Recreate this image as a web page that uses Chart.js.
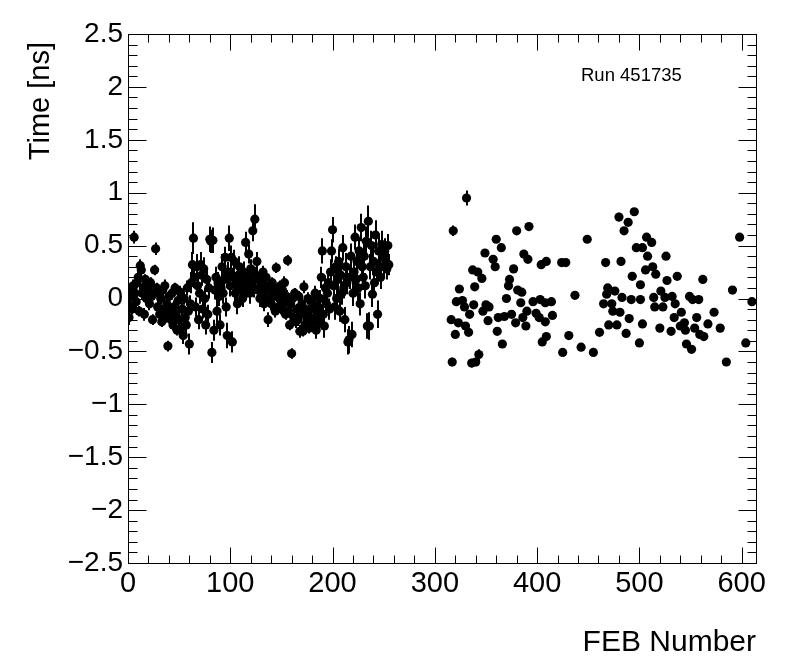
<!DOCTYPE html>
<html>
<head>
<meta charset="utf-8">
<title>FEB timing</title>
<script src="https://cdn.jsdelivr.net/npm/chart.js@4.4.1/dist/chart.umd.min.js"></script>
<style>
  html, body { margin: 0; padding: 0; background: #fff; }
  canvas { display: block; }
</style>
</head>
<body>
<canvas id="febChart" width="796" height="672"></canvas>
<script>
// FEB 0..255: time per FEB, index = FEB number
var denseTime = [
  -0.05, -0.18, 0.02, 0.08, -0.10, 0.12, 0.58, 0.05, -0.03, 0.15,
  0.20, -0.12, 0.31, 0.27, 0.05, 0.10, -0.15, 0.18, 0.00, 0.08,
  0.12, -0.05, 0.15, 0.02, -0.20, 0.05, 0.27, 0.47, 0.10, -0.08,
  0.05, -0.15, 0.00, -0.22, 0.08, -0.10, 0.12, -0.18, -0.05, -0.45,
  0.02, -0.12, -0.20, 0.05, -0.25, -0.08, 0.10, -0.15, -0.30, -0.02,
  -0.20, 0.06, -0.28, -0.10, -0.35, 0.00, -0.18, -0.25, 0.10, -0.12,
  -0.43, -0.05, 0.15, 0.32, 0.57, 0.20, -0.08, 0.30, 0.12, -0.20,
  0.05, 0.32, 0.22, -0.10, 0.28, 0.00, -0.25, 0.18, -0.15, 0.10,
  0.56, 0.54, -0.51, 0.55, -0.30, 0.08, 0.20, -0.12, 0.15, 0.02,
  -0.25, 0.10, 0.30, 0.05, 0.18, 0.39, -0.08, -0.35, 0.25, 0.57,
  0.12, 0.39, -0.41, 0.20, 0.35, 0.05, 0.15, -0.05, 0.22, 0.30,
  0.08, 0.18, 0.00, 0.25, 0.12, 0.53, 0.10, 0.20, 0.42, 0.05,
  0.28, 0.15, 0.64, 0.10, 0.75, 0.22, 0.35, 0.08, 0.18, 0.00,
  0.15, 0.05, 0.25, -0.05, 0.10, 0.20, 0.00, -0.20, 0.12, 0.08,
  -0.05, 0.15, 0.02, 0.10, -0.12, 0.29, 0.05, -0.08, 0.00, 0.12,
  -0.10, 0.08, -0.05, 0.15, -0.15, 0.02, 0.36, -0.12, -0.25, -0.05,
  -0.52, 0.00, -0.18, 0.05, -0.22, -0.10, -0.20, 0.02, -0.31, -0.15,
  -0.05, -0.31, 0.11, -0.25, -0.12, -0.20, 0.00, -0.28, -0.10, -0.18,
  -0.25, -0.05, -0.20, 0.05, -0.30, -0.12, -0.08, -0.22, 0.00, 0.20,
  0.45, -0.15, -0.26, 0.10, -0.05, 0.05, 0.15, -0.10, 0.25, 0.45,
  0.65, 0.12, -0.08, 0.30, 0.00, 0.18, 0.35, -0.12, 0.22, 0.05,
  0.48, 0.10, -0.20, 0.30, 0.15, -0.41, -0.39, 0.20, 0.40, -0.34,
  0.05, 0.25, 0.58, 0.18, 0.35, 0.10, 0.45, -0.05, 0.67, 0.30,
  0.20, 0.40, 0.12, 0.54, -0.26, 0.73, -0.26, 0.30, 0.50, 0.04,
  0.35, 0.15, 0.60, 0.25, -0.15, 0.45, 0.30, 0.20, 0.51, 0.40,
  0.30, 0.45, 0.35, 0.28, 0.50, 0.32
];
var denseErr = [
  0.06, 0.07, 0.05, 0.06, 0.05, 0.06, 0.06, 0.05, 0.06, 0.05,
  0.06, 0.05, 0.06, 0.05, 0.06, 0.05, 0.06, 0.05, 0.06, 0.05,
  0.05, 0.06, 0.05, 0.06, 0.05, 0.06, 0.05, 0.06, 0.05, 0.06,
  0.06, 0.05, 0.06, 0.05, 0.06, 0.05, 0.06, 0.05, 0.06, 0.05,
  0.05, 0.06, 0.05, 0.06, 0.05, 0.06, 0.05, 0.06, 0.05, 0.06,
  0.07, 0.06, 0.07, 0.06, 0.08, 0.06, 0.07, 0.08, 0.07, 0.06,
  0.10, 0.08, 0.10, 0.12, 0.15, 0.10, 0.09, 0.12, 0.10, 0.09,
  0.10, 0.12, 0.10, 0.09, 0.11, 0.10, 0.09, 0.10, 0.09, 0.10,
  0.12, 0.11, 0.10, 0.12, 0.10, 0.09, 0.10, 0.11, 0.10, 0.09,
  0.10, 0.09, 0.12, 0.10, 0.11, 0.10, 0.09, 0.12, 0.10, 0.12,
  0.10, 0.11, 0.10, 0.09, 0.11, 0.10, 0.09, 0.10, 0.11, 0.10,
  0.09, 0.10, 0.08, 0.10, 0.09, 0.10, 0.09, 0.10, 0.09, 0.10,
  0.09, 0.10, 0.10, 0.09, 0.14, 0.08, 0.09, 0.08, 0.07, 0.08,
  0.06, 0.07, 0.06, 0.07, 0.06, 0.07, 0.06, 0.07, 0.06, 0.07,
  0.06, 0.05, 0.06, 0.05, 0.06, 0.05, 0.06, 0.05, 0.06, 0.05,
  0.05, 0.06, 0.05, 0.06, 0.05, 0.06, 0.05, 0.06, 0.05, 0.06,
  0.05, 0.05, 0.06, 0.05, 0.06, 0.05, 0.06, 0.05, 0.06, 0.05,
  0.06, 0.05, 0.06, 0.05, 0.06, 0.05, 0.06, 0.05, 0.06, 0.05,
  0.06, 0.07, 0.06, 0.07, 0.08, 0.07, 0.08, 0.09, 0.08, 0.10,
  0.12, 0.10, 0.11, 0.12, 0.10, 0.12, 0.11, 0.10, 0.12, 0.11,
  0.12, 0.11, 0.12, 0.10, 0.12, 0.11, 0.12, 0.10, 0.13, 0.11,
  0.12, 0.10, 0.12, 0.13, 0.11, 0.12, 0.13, 0.11, 0.12, 0.12,
  0.12, 0.13, 0.12, 0.11, 0.13, 0.12, 0.13, 0.11, 0.13, 0.12,
  0.12, 0.13, 0.12, 0.14, 0.12, 0.15, 0.13, 0.12, 0.14, 0.12,
  0.13, 0.12, 0.14, 0.12, 0.13, 0.14, 0.12, 0.11, 0.13, 0.12,
  0.11, 0.12, 0.11, 0.10, 0.11, 0.10
];

// FEB 316..610: only some FEBs have a value
var sparseFeb = [
  316, 317, 318, 320, 321, 323, 324, 327, 329, 330, 331, 333, 334, 336, 337, 338, 339, 340, 342, 343,
  346, 347, 349, 350, 352, 353, 357, 359, 360, 361, 362, 365, 366, 368, 370, 372, 373, 375, 377, 379,
  380, 381, 384, 385, 386, 387, 389, 390, 391, 392, 396, 399, 402, 403, 404, 405, 408, 408, 409, 409,
  414, 415, 424, 425, 428, 431, 437, 443, 449, 455, 461, 465, 467, 468, 469, 470, 473, 474, 476, 478,
  480, 481, 482, 483, 485, 487, 489, 490, 492, 493, 495, 497, 500, 501, 501, 503, 503, 506, 507, 508,
  512, 513, 514, 515, 516, 520, 521, 523, 525, 526, 527, 531, 532, 534, 535, 537, 540, 541, 544, 545,
  546, 549, 551, 552, 554, 556, 558, 559, 562, 563, 567, 573, 579, 585, 591, 598, 604, 610
];
var sparseTime = [
  -0.20, -0.60, 0.64, -0.34, -0.03, -0.23, 0.09, -0.02, -0.08, -0.26, 0.95, -0.32, -0.15, -0.61, 0.27, -0.06, 0.11, -0.60, 0.25, -0.53,
  0.19, -0.12, 0.43, -0.06, -0.21, -0.08, 0.37, 0.30, 0.56, -0.31, -0.18, 0.48, -0.43, -0.17, 0.00, 0.12, 0.18, -0.15, 0.28, -0.23,
  0.64, 0.08, -0.04, 0.06, -0.18, 0.42, -0.26, -0.12, 0.37, 0.68, -0.03, -0.14, -0.18, -0.01, 0.32, -0.41, -0.04, -0.22, 0.35, -0.36,
  -0.03, -0.16, 0.34, -0.51, 0.34, -0.35, 0.03, -0.46, 0.56, -0.51, -0.32, -0.05, 0.34, 0.04, 0.10, -0.25, -0.05, -0.12, 0.07, -0.25,
  0.77, -0.13, 0.35, 0.01, 0.64, -0.33, 0.72, -0.19, -0.01, 0.21, 0.82, 0.48, -0.42, -0.01, 0.13, 0.48, -0.24, 0.27, 0.58, 0.40,
  0.53, 0.30, 0.01, -0.08, 0.23, -0.28, 0.07, -0.08, 0.01, 0.40, 0.17, -0.31, 0.02, -0.18, -0.05, 0.21, -0.26, -0.13, -0.23, -0.30,
  -0.43, 0.02, -0.48, -0.01, -0.28, -0.18, -0.01, -0.34, 0.18, -0.36, -0.24, -0.13, -0.28, -0.60, 0.08, 0.58, -0.42, -0.03
];
var sparseErr = [
  0.03, 0.04, 0.05, 0.03, 0.03, 0.03, 0.03, 0.03, 0.03, 0.03, 0.07, 0.03, 0.03, 0.04, 0.03, 0.03, 0.03, 0.04, 0.03, 0.05,
  0.03, 0.03, 0.03, 0.03, 0.03, 0.03, 0.04, 0.03, 0.03, 0.03, 0.03, 0.04, 0.03, 0.03, 0.03, 0.03, 0.03, 0.03, 0.03, 0.03,
  0.03, 0.03, 0.03, 0.03, 0.03, 0.03, 0.03, 0.03, 0.03, 0.03, 0.03, 0.03, 0.03, 0.03, 0.03, 0.03, 0.03, 0.03, 0.03, 0.03,
  0.03, 0.03, 0.03, 0.03, 0.03, 0.03, 0.03, 0.03, 0.03, 0.03, 0.03, 0.03, 0.03, 0.03, 0.03, 0.03, 0.03, 0.03, 0.03, 0.03,
  0.04, 0.03, 0.03, 0.03, 0.03, 0.03, 0.03, 0.03, 0.03, 0.03, 0.03, 0.03, 0.03, 0.03, 0.03, 0.03, 0.03, 0.03, 0.03, 0.03,
  0.03, 0.03, 0.03, 0.03, 0.03, 0.03, 0.03, 0.03, 0.03, 0.03, 0.03, 0.03, 0.03, 0.03, 0.03, 0.03, 0.03, 0.03, 0.03, 0.03,
  0.03, 0.03, 0.03, 0.03, 0.03, 0.03, 0.03, 0.03, 0.03, 0.03, 0.03, 0.03, 0.03, 0.03, 0.03, 0.03, 0.03, 0.03
];

var xTickValues = [0, 100, 200, 300, 400, 500, 600];
var yTickValues = [-2.5, -2, -1.5, -1, -0.5, 0, 0.5, 1, 1.5, 2, 2.5];
var xMin = 0, xMax = 614;
var yMin = -2.5, yMax = 2.5;

var points = [];
denseTime.forEach(function (t, feb) {
  points.push({ x: feb, y: t, err: denseErr[feb] });
});
sparseFeb.forEach(function (feb, i) {
  points.push({ x: feb, y: sparseTime[i], err: sparseErr[i] });
});

var FONT = "'Liberation Sans', Arial, Helvetica, sans-serif";

// ROOT-like frame: box + inward ticks on all sides, error bars, titles
var rootFrame = {
  id: "rootFrame",
  beforeDraw: function (chart) {
    var c = chart.ctx;
    c.save();
    c.fillStyle = "#fff";
    c.fillRect(0, 0, chart.width, chart.height);
    c.restore();
  },
  beforeDatasetsDraw: function (chart) {
    var c = chart.ctx;
    var xs = chart.scales.x, ys = chart.scales.y;
    var a = chart.chartArea;
    c.save();
    c.beginPath();
    c.rect(a.left, a.top, a.right - a.left, a.bottom - a.top);
    c.clip();
    c.strokeStyle = "#000";
    c.lineWidth = 2;
    c.beginPath();
    chart.data.datasets[0].data.forEach(function (p) {
      var px = Math.round(xs.getPixelForValue(p.x));
      c.moveTo(px, ys.getPixelForValue(p.y + p.err));
      c.lineTo(px, ys.getPixelForValue(p.y - p.err));
    });
    c.stroke();
    c.restore();
  },
  afterDraw: function (chart) {
    var c = chart.ctx;
    var xs = chart.scales.x, ys = chart.scales.y;
    var a = chart.chartArea;
    var L = Math.round(a.left) + 0.5, R = Math.round(a.right) + 0.5;
    var T = Math.round(a.top) + 0.5, B = Math.round(a.bottom) + 0.5;
    c.save();
    c.strokeStyle = "#000";
    c.lineWidth = 1;
    c.strokeRect(L, T, R - L, B - T);
    c.beginPath();
    // x ticks, minor every 20
    for (var v = xMin; v <= xMax + 0.001; v += 20) {
      var px = Math.round(xs.getPixelForValue(v)) + 0.5;
      var len = (v % 100 === 0) ? 16 : 8;
      c.moveTo(px, B); c.lineTo(px, B - len);
      c.moveTo(px, T); c.lineTo(px, T + len);
    }
    // y ticks, minor every 0.1
    for (var k = 0; k <= 50; k++) {
      var yv = yMin + k * 0.1;
      var py = Math.round(ys.getPixelForValue(yv)) + 0.5;
      var ylen = (k % 5 === 0) ? 18 : 9;
      c.moveTo(L, py); c.lineTo(L + ylen, py);
      c.moveTo(R, py); c.lineTo(R - ylen, py);
    }
    c.stroke();

    c.fillStyle = "#000";
    // x title
    c.font = "30px " + FONT;
    c.textAlign = "right";
    c.textBaseline = "alphabetic";
    c.fillText("FEB Number", a.right, 651);
    // y title
    c.save();
    c.font = "29px " + FONT;
    c.translate(49, a.top + 8);
    c.rotate(-Math.PI / 2);
    c.textAlign = "right";
    c.fillText("Time [ns]", 0, 0);
    c.restore();
    // run label
    c.font = "18.5px " + FONT;
    c.textAlign = "left";
    c.fillText("Run 451735", 581, 81);
    c.restore();
  }
};

function fmtNum(v) {
  var s = String(Math.round(v * 10) / 10);
  return s.replace("-", "\u2212");
}

new Chart(document.getElementById("febChart").getContext("2d"), {
  type: "scatter",
  data: {
    datasets: [
      {
        label: "FEB time",
        data: points,
        backgroundColor: "#000",
        borderColor: "#000",
        pointRadius: 4.6,
        pointHoverRadius: 4.6,
        borderWidth: 0,
      },
    ],
  },
  options: {
    responsive: false,
    animation: false,
    devicePixelRatio: 1,
    layout: {
      padding: { left: 0, top: 34, right: 40, bottom: 0 },
    },
    plugins: {
      legend: { display: false },
      tooltip: { enabled: false },
    },
    scales: {
      x: {
        type: "linear",
        min: xMin,
        max: xMax,
        afterBuildTicks: function (scale) {
          scale.ticks = xTickValues.map(function (v) { return { value: v }; });
        },
        afterFit: function (scale) {
          scale.height = 109;
        },
        grid: { display: false, drawTicks: false },
        border: { display: false },
        ticks: {
          color: "#000",
          padding: 4,
          maxRotation: 0,
          autoSkip: false,
          font: { family: FONT, size: 29 },
          callback: function (v) { return fmtNum(v); },
        },
      },
      y: {
        type: "linear",
        min: yMin,
        max: yMax,
        afterBuildTicks: function (scale) {
          scale.ticks = yTickValues.map(function (v) { return { value: v }; });
        },
        afterFit: function (scale) {
          scale.width = 128;
        },
        grid: { display: false, drawTicks: false },
        border: { display: false },
        ticks: {
          color: "#000",
          padding: 5,
          autoSkip: false,
          font: { family: FONT, size: 28 },
          callback: function (v) { return fmtNum(v); },
        },
      },
    },
  },
  plugins: [rootFrame],
});
</script>
</body>
</html>
